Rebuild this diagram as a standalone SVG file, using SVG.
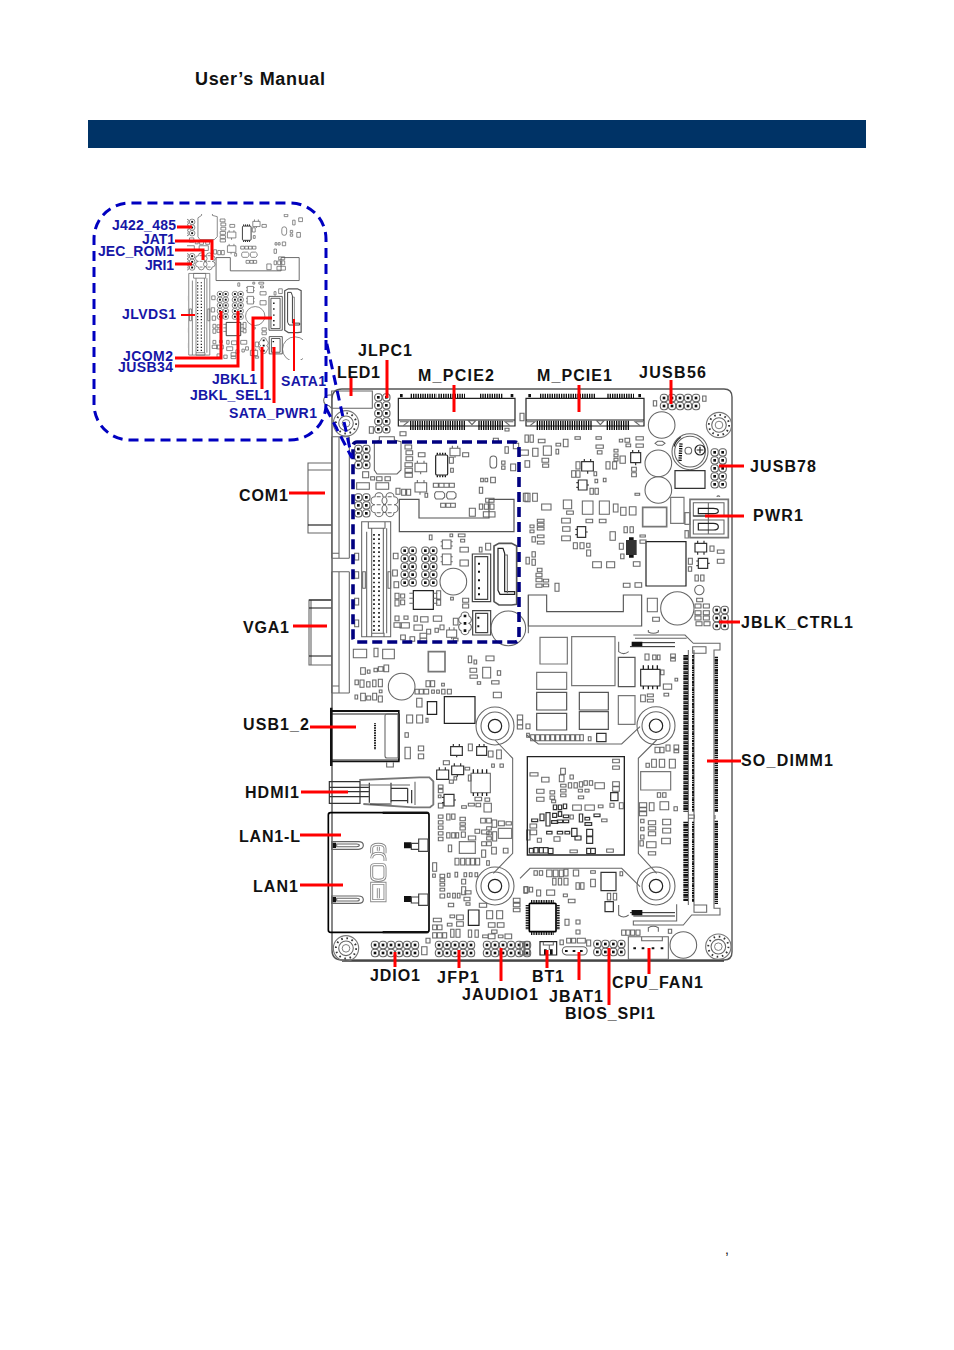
<svg xmlns="http://www.w3.org/2000/svg" width="954" height="1350" viewBox="0 0 954 1350">
<style>
text{font-family:"Liberation Sans",Arial,sans-serif;font-weight:700}
.k{font-size:16px;fill:#111}
.b{font-size:14px;fill:#1616a6}
.s{fill:none;stroke:#666;stroke-width:3.2}
.d{fill:none;stroke:#222;stroke-width:3.6}
.t{fill:none;stroke:#777;stroke-width:5}
.x{fill:none;stroke:#000;stroke-width:5}
.f{fill:#111}
.r{fill:none;stroke:#f00;stroke-width:3}
.r2{fill:none;stroke:#f00;stroke-width:2}
.tk{fill:none;stroke:#111;stroke-dasharray:4 3}
</style>
<defs>
<g id="c"><rect x="1" y="1" width="22" height="22" rx="9" class="s"/><rect x="8" y="8" width="8" height="8" class="f"/></g>
<g id="h2"><use href="#c"/><use href="#c" x="24"/></g>
<g id="h2x3"><use href="#h2"/><use href="#h2" y="24"/><use href="#h2" y="48"/></g>
<g id="h2x5"><use href="#h2x3"/><use href="#h2" y="72"/><use href="#h2" y="96"/></g>
<g id="v2"><use href="#c"/><use href="#c" y="24"/></g>
<g id="v3"><use href="#v2"/><use href="#v2" x="24"/><use href="#v2" x="48"/></g>
<g id="h4x2"><use href="#v3"/><use href="#v2" x="72"/></g>
<g id="h5x2"><use href="#h4x2"/><use href="#v2" x="96"/></g>
<g id="h6x2"><use href="#h5x2"/><use href="#v2" x="120"/></g>
<g id="mh" fill="none"><circle r="20" stroke="#777" stroke-width="1.8"/><circle r="16" stroke="#333" stroke-width="3" stroke-dasharray="2.5 5.9"/><circle r="11.5" stroke="#666" stroke-width="1.7"/><circle r="6" stroke="#777" stroke-width="1.5"/></g>
<clipPath id="ic"><rect x="187" y="214" width="116" height="146"/></clipPath>
<g id="region">
<g class="z2">
<use href="#h2x3" x="103" y="195"/><use href="#h2x3" x="103" y="340"/>
<path class="s" d="M165 350a12 12 0 0 1 24 0a12 12 0 0 1 0 24a12 12 0 0 1 0 24a12 12 0 0 1-24 0a12 12 0 0 1 0-24a12 12 0 0 1 0-24zM198 350a12 12 0 0 1 24 0a12 12 0 0 1 0 24a12 12 0 0 1 0 24a12 12 0 0 1-24 0a12 12 0 0 1 0-24a12 12 0 0 1 0-24z"/>
<path class="s" d="M170 350h12M170 374h12M170 398h12M203 350h12M203 374h12M203 398h12"/>
<path class="s" d="M163 190l15-10v-10h45v10l20 5v85l-12 12h-60l-8-12z"/>
<path class="s" d="M255 195h20v12h-20zM258 212h20v12h-20zM258 230h20v12h-20zM255 248h22v12h-22zM255 265h22v12h-22zM255 280h22v12h-22zM295 218h20v12h-20zM128 275h18v18h-18zM170 290h16v12h-16zM195 290h16v12h-16zM152 290h12v10h-12zM110 308h38v20h-38zM168 308h38v20h-38zM228 325h12v18h-12zM245 328h12v18h-12zM260 328h12v18h-12zM428 218h18v12h-18zM388 232h12v18h-12zM392 265h8v12h-8zM340 310h15v12h-15zM357 310h15v12h-15zM372 310h15v12h-15zM388 310h15v12h-15zM315 340h8v12h-8zM362 370h14v12h-14zM378 370h14v12h-14zM392 370h14v12h-14zM545 243h10v10h-10zM545 258h10v10h-10zM572 252h15v20h-15zM478 322h10v18h-10zM482 295h8v10h-8zM495 295h8v10h-8zM512 292h14v16h-14zM448 385h18v24h-18zM478 372h10v16h-10zM493 372h12v16h-12zM510 372h12v16h-12zM497 355h25v12h-25zM490 395h35v16h-35zM328 465h8v14h-8zM390 462h8v8h-8zM415 462h20v8h-20zM422 478h12v8h-12zM420 502h25v14h-25zM497 490h15v20h-15zM478 502h8v14h-8zM420 540h25v18h-25zM220 520h14v16h-14zM218 570h14v18h-14zM222 605h14v18h-14zM225 640h12v16h-12zM225 660h12v18h-12zM242 642h12v12h-12zM242 660h12v14h-12zM225 708h12v14h-12zM222 728h22v14h-22zM252 708h12v10h-12zM282 708h10v16h-10zM302 710h22v16h-22zM340 708h25v16h-25zM282 735h25v16h-25zM240 728h28v16h-28zM350 632h12v25h-12zM350 660h12v16h-12zM392 652h8v8h-8zM428 655h18v12h-18zM428 672h18v12h-18zM320 748h12v14h-12zM345 745h10v12h-10zM360 735h12v14h-12zM400 715h14v20h-14zM242 765h14v14h-14zM270 770h14v14h-14zM300 760h20v14h-20zM300 775h20v10h-20zM400 775h14v8h-14zM520 175h15v10h-15zM555 200h10v20h-10zM580 190h16v16h-16zM104 520h12v20h-12zM104 575h12v20h-12zM104 655h12v20h-12zM104 720h12v20h-12zM128 575h8v50h-8zM204 575h8v50h-8z"/>
<path class="s" d="M285 250h35v25h-35zM292 250v-8M312 250v-8M302 275v8M285 308h35v28h-35zM292 308v-8M312 308v-8M300 336v8M390 205h30v22h-30zM397 205v-8M413 205v-8M405 227v6M380 750h30v22h-30zM388 750v-8M402 750v-8M395 772v6"/>
<rect x="347" y="225" width="36" height="60" rx="4" class="d"/><path d="M352 218v6M360 218v6M368 218v6M376 218v6M352 286v6M360 286v6M368 286v6M376 286v6" stroke="#111" stroke-width="4" fill="none"/>
<path class="s" d="M348 335h20l6 6v10l-6 6h-20l-4-6v-10zM384 335h18l6 6v10l-6 6h-18l-4-6v-10zM510 238q0-10 10-10t10 10v16q0 10-10 10t-10-10z"/>
<path class="d" d="M238 358h59v56h210v-56h75v97h-344z" style="stroke:#555"/>
<path class="s" d="M125 425h87v345h-87zM140 455v315M155 445v315M190 445v315M200 445v315M145 425h50v20h-50zM155 760h37v10h-37z"/>
<path fill="none" stroke="#111" stroke-width="5" stroke-dasharray="5 8" d="M162 462v295M177 462v295"/>
<use href="#h2x5" x="242" y="500"/><use href="#h2x5" x="304" y="500"/>
<circle cx="400" cy="605" r="40" class="s"/>
<path class="d" d="M280 632h60v56h-60z"/><path class="s" d="M268 640h12M268 655h12M268 670h12M340 640h12M340 655h12M340 670h12"/>
<path class="s" d="M367 480h26v26h-26zM367 522h26v32h-26zM362 485h5M362 498h5M393 485h5M393 498h5M362 530h5M362 545h5M393 530h5M393 545h5"/>
<path class="d" style="stroke:#444" d="M457 522h55v143h-55zM465 530h38v128h-38z"/>
<path fill="#111" d="M474 548h6v6h-6zM474 572h6v6h-6zM474 598h6v6h-6zM474 622h6v6h-6zM474 640h6v6h-6z"/>
<path class="t" style="stroke:#555" d="M522 498l15-8h38l15 8v175l-15 2h-38l-15-10z"/><path class="d" d="M534 505h15l5 15v115h30v8h-44l-6-12z"/><path class="s" d="M554 525h8v115"/>
<path class="d" style="stroke:#444" d="M458 692h54v73h-54zM467 700h36v58h-36z"/><path fill="#111" d="M472 710h6v6h-6zM472 736h6v6h-6z"/>
<path class="s" d="M423 708a12 12 0 0 1 24 0a12 12 0 0 1 0 22a12 12 0 0 1 0 22a12 12 0 0 1-24 0a12 12 0 0 1 0-22a12 12 0 0 1 0-22z"/><path d="M431 704h8v8h-8zM431 726h8v8h-8zM431 748h8v8h-8z" class="f"/>
<circle cx="565" cy="745" r="52" class="s"/>
</g>
</g>
</defs>
<rect width="954" height="1350" fill="#fff"/>
<text x="195" y="85" font-size="18" fill="#111" textLength="130">User’s Manual</text>
<rect x="88" y="120" width="778" height="28" fill="#003366"/>
<text x="725" y="1254" font-size="14" fill="#111" style="font-weight:400">,</text>
<g id="board">
<path fill="none" stroke="#555" stroke-width="1.4" d="M342 389H724q8 0 8 8V952q0 8-8 8H342q-10 0-10-10V399q0-10 10-10z"/>
<path fill="none" stroke="#333" stroke-width="1.6" d="M342 961H724"/>
<g id="com1-body" fill="none" stroke="#666" stroke-width="1.1">
<path d="M332 463H308V533H332M308 470H332"/><path stroke="#111" d="M308 525H332"/>
<path d="M332 600H309V665H332M311 600V665"/><path stroke="#111" d="M309 600H332M309 608H332M309 656H332"/>
</g>
<g transform="translate(320 380) scale(.33333)">
<use href="#region"/>
<path class="s" d="M35 170v365M57 170v365M88 170v365M35 170h53M35 535h53M35 520h22M35 575h53M35 575v364M57 575v364M88 575v364M35 939h53M35 918h22"/>
<path class="s" d="M35 33h122v52h-122zM35 45h-8a15 15 0 0 0 0 32l8 8"/>
<use href="#h2x5" x="163" y="40"/>
<path class="s" d="M148 140h12v20h-12zM240 155h18v12h-18zM555 145h12v8h-12zM600 100h12v22h-12zM615 340h15v25h-15zM625 645v115"/>
<use href="#mh" transform="translate(78 130) scale(1.9)"/>
<path class="d" d="M235 55h350v83h-350zM235 120h350"/>
<path class="tk" stroke-width="13" d="M272 48h78M355 48h80M480 48h70"/><path class="tk" stroke-width="28" d="M270 136h165M475 136h75"/>
<path d="M240 42h8v10h-8zM572 42h8v10h-8z" class="f"/><path class="s" d="M240 125l25 0-15 12M580 125l-25 0 15 12M445 122h22l-11 12z"/>
</g>
<g transform="translate(520 380) scale(.33333)">
<path class="d" d="M18 55h354v83h-354zM18 120h354"/>
<path class="tk" stroke-width="13" d="M60 48h165M262 48h80"/><path class="tk" stroke-width="28" d="M50 136h165M260 136h70"/>
<path d="M25 42h8v10h-8zM355 42h8v10h-8z" class="f"/><path class="s" d="M20 125l25 0-15 12M370 125l-25 0 15 12M230 122h22l-11 12z"/>
<use href="#h5x2" x="420" y="42"/>
<use href="#mh" transform="translate(597 135) scale(1.9)"/>
<circle cx="425" cy="135" r="40" class="s"/><circle cx="415" cy="250" r="40" class="s"/><circle cx="415" cy="330" r="40" class="s"/>
<circle cx="510" cy="215" r="54" class="s"/><circle cx="510" cy="215" r="46" class="s" /><circle cx="540" cy="210" r="15" class="d"/><circle cx="505" cy="212" r="10" class="s"/><path class="d" d="M530 210h20M540 200v20M462 200a50 50 0 0 1 20-28"/><path class="tk" stroke-width="10" d="M483 190l-3 55"/>
<use href="#h2x5" x="572" y="205"/>
<path class="d" style="stroke:#333" d="M465 272h90v53h-90z"/>
<path class="t" d="M510 358h115v115h-115z"/>
<path class="s" d="M520 368h92v40h-92zM520 420h92v42h-92zM565 368v94M590 350q5-5 10 0"/>
<path class="d" d="M535 385h45q15 0 15 8t-15 8h-45zM535 430h45q15 0 15 10t-15 10h-45zM520 408h90"/>
<path class="t" d="M368 382h72v58h-72z"/><path class="t" style="stroke-width:3.5" d="M452 352h40v78h-40zM495 398h15v35h-15zM495 452h10v22h-10z"/>
<path class="d" d="M378 485h120v133h-120z"/>
<circle cx="472" cy="685" r="50" class="s"/><path class="s" d="M382 655h30v40h-30z"/>
<use href="#h2x3" x="578" y="678"/>
<circle cx="538" cy="630" r="14" class="s"/>
<path style="stroke:#555;fill:none;stroke-width:3.4" d="M25 645h55v50h230v-50h55v93h-340z"/>
<rect x="318" y="480" width="32" height="45" fill="#333"/><path d="M327 472h14v8h-14zM327 525h14v8h-14z" class="f"/>
<path class="s" d="M0 210h25v16h-25zM38 205h16v24h-16zM70 198h24v28h-24zM108 208h8v14h-8zM66 235h20v12h-20zM68 252h18v10h-18zM15 242h14v20h-14zM55 178h20v10h-20zM15 165h10v22h-10zM30 165h10v22h-10zM108 190h14v8h-14zM130 178h14v22h-14zM165 170h16v8h-16zM228 170h16v8h-16zM228 195h22v10h-22zM232 212h14v10h-14zM282 208h12v8h-12zM282 222h12v8h-12zM282 235h12v8h-12zM298 178h10v8h-10zM315 175h14v12h-14zM318 192h14v8h-14zM348 170h22v10h-22zM348 192h22v10h-22zM300 228h16v22h-16zM335 262h14v12h-14zM335 278h14v12h-14zM168 245h12v22h-12zM155 272h12v20h-12zM168 272h12v20h-12zM210 325h10v18h-10zM225 325h10v18h-10zM225 298h8v10h-8zM250 295h8v10h-8zM222 275h8v12h-8zM258 245h12v22h-12zM278 245h12v22h-12zM10 340h14v24h-14zM38 340h14v24h-14zM65 372h28v18h-28zM130 360h25v26h-25zM140 393h20v10h-20zM187 363h32v40h-32zM238 363h30v40h-30zM280 372h14v24h-14zM302 382h16v24h-16zM328 380h20v25h-20zM198 418h20v10h-20zM238 418h20v10h-20zM125 415h26v14h-26zM128 440h22v14h-22zM125 468h26v14h-26zM30 435h12v8h-12zM30 450h12v8h-12zM52 418h20v8h-20zM52 430h20v8h-20zM52 442h20v8h-20zM52 465h20v8h-20zM52 484h20v8h-20zM36 470h10v16h-10zM160 488h12v18h-12zM180 488h12v18h-12zM200 490h10v12h-10zM200 510h12v18h-12zM270 455h16v26h-16zM312 440h10v18h-10zM330 440h10v18h-10zM298 490h12v18h-12zM302 522h10v14h-10zM360 480h18v10h-18zM360 465h16v6h-16zM340 545h20v14h-20zM218 545h26v18h-26zM260 545h24v18h-24zM36 515h10v16h-10zM18 532h10v20h-10zM36 538h10v18h-10zM52 565h14v10h-14zM48 580h18v10h-18zM48 595h18v10h-18zM48 612h18v10h-18zM70 598h16v8h-16zM70 612h16v8h-16zM105 610h12v24h-12zM310 610h20v12h-20zM345 608h20v14h-20zM570 498h12v16h-12zM592 510h20v10h-20zM592 538h20v12h-20zM505 535h12v18h-12zM505 560h10v14h-10zM525 585h10v18h-10zM542 585h10v18h-10zM530 655h18v10h-18zM525 672h18v12h-18zM550 672h18v12h-18zM525 692h18v12h-18zM550 692h18v12h-18zM525 708h18v12h-18zM550 708h18v12h-18zM528 725h18v12h-18zM552 725h18v12h-18zM398 712h20v12h-20zM400 62h10v16h-10zM548 48h10v16h-10zM345 340h14v6h-14zM405 190l8-6h14l8 6-8 6h-14z"/>
<path class="d" style="stroke:#333" d="M332 218h30v30h-30zM338 218v-8M356 218v-8M347 248v8M185 245h35v28h-35zM193 245v-8M212 245v-8M203 273v8M175 300h26v30h-26zM175 308h-6M175 322h-6M201 315h6M172 440h25v32h-25zM172 448h-6M172 464h-6M197 456h6M525 490h35v26h-35zM533 490v-8M552 490v-8M533 516v8M552 516v8M535 535h28v30h-28zM535 543h-6M535 557h-6M563 550h6"/>
</g>
<g transform="translate(320 640) scale(.33333)">
<path class="s" d="M100 28h40v25h-40zM188 28h35v28h-35zM162 25h12v25h-12zM122 83h14v20h-14zM142 90h8v10h-8zM162 85h10v10h-10zM175 80h14v14h-14zM192 75h14v20h-14zM105 120h10v14h-10zM120 120h12v22h-12zM140 125h10v16h-10zM158 120h10v20h-10zM175 118h12v22h-12zM178 150h8v8h-8zM105 165h8v12h-8zM122 160h14v22h-14zM140 168h12v12h-12zM158 160h12v20h-12zM175 168h12v18h-12zM318 122h12v18h-12zM332 122h12v18h-12zM365 130h8v8h-8zM285 148h12v14h-12zM298 148h12v14h-12zM312 148h14v14h-14zM335 150h8v10h-8zM350 150h8v10h-8zM365 148h10v14h-10zM382 148h12v14h-12zM290 175h16v26h-16zM260 225h18v24h-18zM290 225h18v24h-18zM318 235h6v12h-6zM445 48h10v20h-10zM462 60h8v12h-8zM498 48h24v14h-24zM450 85h20v12h-20zM450 105h22v10h-22zM488 82h24v32h-24zM532 92h10v14h-10zM472 125h10v8h-10zM515 122h22v10h-22zM520 157h24v16h-24zM255 278h10v14h-10zM255 322h16v34h-16zM295 318h16v14h-16zM295 342h16v14h-16zM445 312h12v20h-12zM505 333h14v18h-14zM530 330h14v26h-14zM370 362h18v12h-18zM515 372h8v10h-8zM540 372h10v10h-10zM435 382h14v8h-14zM445 405h8v18h-8zM402 410h8v10h-8zM388 420h12v10h-12zM355 435h14v10h-14zM355 448h14v10h-14zM355 465h8v8h-8zM355 490h14v14h-14zM465 472h20v10h-20zM495 474h14v10h-14zM445 490h18v8h-18zM468 490h14v10h-14zM425 497h14v8h-14zM492 490h22v26h-22zM355 525h14v10h-14zM355 542h14v10h-14zM355 558h14v10h-14zM355 575h14v10h-14zM355 592h14v10h-14zM380 522h10v18h-10zM395 522h10v16h-10zM420 532h16v10h-16zM420 548h16v8h-16zM420 560h16v10h-16zM380 578h10v16h-10zM395 578h10v16h-10zM408 578h8v16h-8zM424 576h12v16h-12zM482 535h14v14h-14zM500 535h14v14h-14zM516 540h14v22h-14zM535 543h18v14h-18zM558 545h16v10h-16zM485 570h22v12h-22zM465 568h14v12h-14zM445 588h22v12h-22zM500 560h14v10h-14zM500 575h14v10h-14zM500 590h14v10h-14zM518 575h12v28h-12zM485 605h14v12h-14zM500 605h14v12h-14zM385 615h10v20h-10zM485 630h12v22h-12zM515 622h14v20h-14zM550 625h14v14h-14zM405 655h12v20h-12zM422 655h12v20h-12zM438 655h12v20h-12zM452 655h12v20h-12zM467 655h12v20h-12zM500 662h8v14h-8zM338 668h12v26h-12zM338 702h8v10h-8zM360 703h14v10h-14zM360 717h14v8h-14zM360 730h14v8h-14zM360 745h14v8h-14zM360 762h14v12h-14zM382 700h8v12h-8zM405 697h8v14h-8zM432 698h8v12h-8zM448 698h8v12h-8zM465 698h8v12h-8zM425 718h12v14h-12zM425 740h12v24h-12zM382 760h8v12h-8zM398 760h8v14h-8zM412 760h8v14h-8zM435 752h18v10h-18zM432 772h18v10h-18zM438 788h12v8h-12zM385 790h16v10h-16zM478 790h22v12h-22zM340 835h24v10h-24zM390 825h14v8h-14zM410 825h20v14h-20zM410 845h20v14h-20zM382 850h14v8h-14zM338 855h12v14h-12zM352 855h14v14h-14zM338 878h12v16h-12zM352 878h14v16h-14zM368 878h12v16h-12zM392 868h10v24h-10zM408 868h12v24h-12zM465 870h10v22h-10zM445 870h10v22h-10zM500 812h18v24h-18zM530 812h18v24h-18zM505 848h20v14h-20zM532 848h20v14h-20zM515 870h16v10h-16zM488 885h16v8h-16zM505 882h20v14h-20zM535 885h14v8h-14zM555 882h20v14h-20zM318 895h12v14h-12zM305 920h16v24h-16zM592 225h16v14h-16zM592 240h16v14h-16zM592 255h16v12h-16zM618 252h12v14h-12zM580 775h20v12h-20zM580 790h20v10h-20zM580 805h20v10h-20zM612 740h10v20h-10zM620 570h10v30h-10z"/>
<circle cx="245" cy="140" r="40" class="s"/>
<path class="t" d="M325 35h50v60h-50z"/><path class="t" d="M418 605h48v35h-48zM535 565h40v30h-40z" style="stroke-width:3.6"/>
<path class="d" d="M322 185h28v38h-28zM373 170h92v80h-92zM445 810h32v46h-32z"/>
<path class="d" style="stroke:#333" d="M392 320h35v26h-35zM400 320v-8M418 320v-8M410 346v6M470 320h30v26h-30zM478 320v-8M492 320v-8M350 390h36v28h-36zM358 390v-8M376 390v-8M395 378h36v26h-36zM403 378v-8M422 378v-8M412 404v6M372 463h30v35h-30zM372 472h-6M372 488h-6M402 480h6"/>
<path class="s" d="M453 400h58v58h-58z"/><path d="M460 388v12M473 388v12M487 388v12M500 388v12M460 458v10M473 458v10M487 458v10M500 458v10" stroke="#222" stroke-width="4" fill="none"/>
<path class="d" d="M33 222H237V360H33z"/>
<path fill="#111" d="M30 203h7v175h-7zM33 210h205v6h-205zM33 362h205v5h-205zM234 210h5v157h-5z"/>
<path class="s" d="M195 228q0-6 6-6h33v132h-33q-6 0-6-6z"/>
<path class="tk" stroke-width="6" style="stroke-dasharray:3 2" d="M165 250v80"/>
<path class="s" d="M200 367v14h20v-14"/>
<path class="t" style="stroke-width:5.5;stroke:#777" d="M118 420L298 412h30l12 12v70l-10 8h-50l-150-10"/>
<path class="d" style="stroke:#333" d="M28 425h92v65h-92zM28 442h118M28 455h118M28 470h118M148 428v60M213 428v60M213 445h50M213 482h50M263 445v45M275 450v40M150 492h65"/>
<path class="s" d="M285 425v70M120 435h150"/>
<path class="x" style="stroke-width:5" d="M25 525q0-7 7-7h288q7 0 7 7v345q0 7-7 7h-288q-7 0-7-7z"/>
<path d="M188 515h137v7h-137zM188 873h137v7h-137z" class="f"/>
<path class="d" d="M35 605h80q15 0 15 11t-15 12h-80zM35 768h80q15 0 15 11t-15 11h-80z" style="stroke:#666"/>
<path class="s" d="M50 612h60q8 0 8 4t-8 4h-60zM50 775h60q8 0 8 4t-8 4h-60z"/>
<path class="f" d="M38 608h10v16h-10zM38 771h10v16h-10zM252 607h22v18h-22zM252 768h22v18h-22z"/>
<path class="d" d="M274 610h22v18h-22zM296 597h28v37h-28zM274 771h22v18h-22zM296 762h28v34h-28z" style="stroke:#444"/>
<g fill="none"><path stroke="#888" stroke-width="9" d="M155 640v-15q0-12 20-12t20 12v15M155 655q0-15 20-15t20 15v8M175 620v12M155 680q0-6 8-6h25q7 0 7 10v25q0 12-20 12t-20-12zM155 730h40v52h-40zM175 745v30"/><path stroke="#fff" stroke-width="3.5" d="M155 640v-15q0-12 20-12t20 12v15M155 655q0-15 20-15t20 15v8M175 620v12M155 680q0-6 8-6h25q7 0 7 10v25q0 12-20 12t-20-12zM155 730h40v52h-40zM175 745v30"/></g>
<use href="#h6x2" x="153" y="903"/><use href="#h5x2" x="345" y="903"/><use href="#h6x2" x="489" y="903"/>
<use href="#mh" transform="translate(78 925) scale(1.9)"/>
<circle cx="525" cy="258" r="57" class="s"/><circle cx="525" cy="258" r="42" class="s"/><circle cx="525" cy="258" r="20" class="d"/>
<circle cx="525" cy="738" r="57" class="s"/><circle cx="525" cy="738" r="42" class="s"/><circle cx="525" cy="738" r="20" class="d"/>
<path class="s" d="M525 300l53 55v285l-58 60"/>
</g>
<g transform="translate(520 630) scale(.33333)">
<path class="t" style="stroke-width:3.6" d="M60 22h82v80h-82zM155 20h130v147h-130zM50 127h90v51h-90zM295 197h50v86h-50z"/>
<path class="d" style="stroke:#555" d="M50 187h90v53h-90zM50 250h90v50h-90zM178 187h87v53h-87zM178 245h87v53h-87zM295 82h50v88h-50z"/>
<path class="d" style="stroke-width:4" d="M22 380h291v295h-291z"/>
<circle cx="408" cy="287" r="57" class="s"/><circle cx="408" cy="287" r="42" class="s"/><circle cx="408" cy="287" r="20" class="d"/>
<circle cx="408" cy="768" r="57" class="s"/><circle cx="408" cy="768" r="42" class="s"/><circle cx="408" cy="768" r="20" class="d"/>
<path class="s" d="M20 315l35 27h250l55-52M410 330l-55 55v285l55 60M0 745l30-30h275l55 55"/>
<path class="s" d="M340 15h155l25 25h65l15 0v20h-18v775h18v20h-15l-70 0-25 30h-150v-12h130v-50M345 25l155 0"/>
<path class="d" style="stroke-width:3" d="M340 38h125M330 50h135M340 858h125M330 848h135"/>
<path class="f" d="M335 35h32v14h-32zM335 840h32v16h-32z"/>
<path class="s" d="M296 35v30q15 12 30 0M296 825v30q15 12 30 0M385 0v6q15 8 30 0v-6M385 905v-12q15-8 30 0v12"/>
<path class="s" d="M505 60v765M522 60v765M518 50h40v20h-40zM522 825h38v22h-38zM505 555h18v10h-18zM585 555v12"/>
<path class="tk" stroke-width="14" style="stroke-dasharray:5 2 8 2 3 2 6 2" d="M497 75v470M497 575v240"/>
<path class="tk" stroke-width="6" style="stroke-dasharray:5 2 3 2 8 2" d="M519 75v470M519 575v240"/>
<path class="tk" stroke-width="10" style="stroke-dasharray:4 2 9 2 6 2 3 2" d="M589 80v465M589 572v250"/>
<path class="s" d="M375 72h12v18h-12zM398 75h10v14h-10zM412 75h8v14h-8zM452 72h14v10h-14zM452 85h14v8h-14zM430 162h25v16h-25zM432 190h14v8h-14zM422 120h10v14h-10zM465 145h8v8h-8zM362 195h14v20h-14zM382 192h18v8h-18zM382 208h18v8h-18zM32 314h12v18h-12zM47 314h12v18h-12zM62 314h12v18h-12zM77 314h12v18h-12zM92 314h12v18h-12zM107 314h12v18h-12zM122 314h12v18h-12zM137 314h12v18h-12zM152 314h12v18h-12zM167 314h12v18h-12zM180 314h10v18h-10zM205 320h8v12h-8zM20 310h8v12h-8zM405 352h14v16h-14zM420 352h12v16h-12zM438 345h12v18h-12zM462 345h14v12h-14zM462 360h14v8h-14zM378 400h10v12h-10zM395 388h14v24h-14zM418 388h16v24h-16zM448 388h18v26h-18zM412 488h10v14h-10zM428 488h10v14h-10zM358 518h22v14h-22zM358 533h22v10h-22zM358 545h22v12h-22zM388 518h14v24h-14zM420 515h26v24h-26zM462 530h10v12h-10zM362 568h10v10h-10zM362 592h10v10h-10zM362 615h10v12h-10zM385 572h22v12h-22zM385 590h22v10h-22zM385 605h22v12h-22zM380 635h28v18h-28zM385 665h22v10h-22zM360 632h10v16h-10zM428 568h24v16h-24zM428 595h24v14h-24zM425 625h26v16h-26zM42 722h10v14h-10zM58 722h10v14h-10zM80 720h16v20h-16zM100 720h14v20h-14zM118 720h12v20h-12zM132 718h12v20h-12zM160 720h16v18h-16zM212 722h14v8h-14zM212 748h14v22h-14zM98 745h10v20h-10zM115 745h10v20h-10zM132 745h12v20h-12zM168 758h10v20h-10zM182 758h10v20h-10zM300 725h8v12h-8zM262 790h10v20h-10zM280 790h10v20h-10zM12 770h12v18h-12zM28 772h10v14h-10zM50 780h12v18h-12zM80 780h24v16h-24zM130 792h12v8h-12zM145 808h20v10h-20zM135 868h12v18h-12zM168 870h12v12h-12zM168 900h12v12h-12zM120 930h10v14h-10zM140 925h12v14h-12zM155 925h12v14h-12zM172 925h24v14h-24zM200 930h12v18h-12zM305 900h12v16h-12zM318 900h12v16h-12zM332 900h12v16h-12zM348 900h12v16h-12zM445 898h10v12h-10zM0 935h12v40h-12zM15 935h14v40h-14z"/>
<path class="t" style="stroke-width:3.6" d="M362 425h90v55h-90z"/>
<path class="d" d="M362 118h58v50h-58zM243 727h45v55h-45zM230 310h28v25h-28zM255 815h25v30h-25z" style="stroke:#333"/>
<path d="M370 106v12M385 106v12M398 106v12M412 106v12M370 168v10M385 168v10M398 168v10M412 168v10" stroke="#222" stroke-width="4" fill="none"/>
<rect x="28" y="820" width="80" height="85" rx="3" class="x"/>
<path class="tk" stroke-width="10" style="stroke-dasharray:3 2" d="M33 815h70M33 910h70M22 825v75M114 825v75"/>
<path class="d" d="M60 935h50v40h-50z"/><path class="s" d="M70 935v10h30v-10M88 945v15"/><path class="f" d="M72 958h8v16h-8zM90 958h8v16h-8z"/>
<path class="s" d="M127 962a12 12 0 0 1 12-12h50a12 12 0 0 1 0 25h-50a12 12 0 0 1-12-13z"/><path class="f" d="M135 960h8v6h-8zM158 960h8v6h-8zM180 960h8v6h-8z"/>
<use href="#h4x2" x="220" y="930"/>
<path class="s" d="M325 920h120v68h-120zM365 920v12h62v-12"/><path class="f" d="M340 952h8v6h-8zM365 952h8v6h-8zM395 952h8v6h-8zM422 952h8v6h-8z"/>
<circle cx="490" cy="945" r="40" class="s"/>
<use href="#mh" transform="translate(595 950) scale(1.9)"/>
<g>
<path class="s" d="M278 388h20v10h-20zM278 408h20v10h-20zM122 415h14v18h-14zM118 435h14v20h-14zM150 435h10v12h-10zM30 428h24v10h-24zM65 442h22v14h-22zM145 458h10v16h-10zM162 458h10v16h-10zM178 455h10v16h-10zM192 452h10v14h-10zM208 452h10v14h-10zM225 458h28v18h-28zM122 463h16v8h-16zM122 478h16v8h-16zM122 492h16v8h-16zM175 478h12v8h-12zM195 478h12v8h-12zM175 498h16v8h-16zM50 478h22v12h-22zM50 502h22v12h-22zM90 482h14v10h-14zM90 498h14v10h-14zM95 510h12v8h-12zM278 455h20v14h-20zM278 470h20v14h-20zM270 520h12v12h-12zM298 518h12v18h-12zM158 525h26v16h-26zM195 525h28v16h-28zM235 525h14v8h-14zM150 555h10v12h-10zM245 567h16v8h-16zM30 582h20v12h-20zM30 600h20v14h-20zM102 620h18v14h-18zM52 625h12v12h-12zM150 660h22v8h-22zM260 657h20v10h-20z"/>
<path class="d" style="stroke:#333" d="M272 488h22v24h-22zM100 525h10v14h-10zM115 525h10v14h-10zM130 522h10v14h-10zM35 567h18v8h-18zM60 552h12v20h-12zM78 548h12v40h-12zM98 550h12v12h-12zM115 545h10v14h-10zM130 555h16v8h-16zM178 552h10v24h-10zM195 562h14v8h-14zM222 552h18v8h-18zM95 572h18v8h-18zM112 570h16v8h-16zM130 570h16v8h-16zM80 604h16v8h-16zM112 604h16v8h-16zM135 604h14v8h-14zM155 595h16v24h-16zM165 618h18v12h-18zM200 598h18v20h-18zM200 620h18v20h-18zM195 578h20v8h-20zM28 655h12v14h-12zM42 653h12v16h-12zM58 653h12v16h-12zM70 653h14v16h-14zM85 655h14v16h-14zM200 655h12v16h-12zM212 655h14v16h-14z"/>
</g>
</g>
</g>
<g id="inset-view" clip-path="url(#ic)"><g transform="translate(189 219) scale(.725 .71) translate(-362 -445) translate(320 380) scale(.33333)"><use href="#region"/></g></g>
<g id="dashes" fill="none">
<rect x="353" y="442" width="166" height="200" rx="4" stroke="#000080" stroke-width="3.6" stroke-dasharray="10 5"/>
<path stroke="#0000c0" stroke-width="3" stroke-dasharray="10 6" d="M326 340V404C326 424 310 440 290 440H130C110 440 94 424 94 404V239C94 219 110 203 130 203H290C310 203 326 219 326 239V340L352 458M326 408L352 458"/>
</g>
<g id="connectors">
<path class="r" d="M289 493H325M293 626H327M310 727H356M301 792H348M300 835H341M300 885H343M351 378V396M387 360V398M454 385V412M579 385V412M671 380V404M719 466H744M705 516H744M719 622H740M707 761H741M395 952V967M459 950V968M501 948V981M547 950V968M579 952V980M609 948V1005M649 948V974"/>
<path class="r" d="M177 227H192M175 241H212V260M175 250H203V260M175 264H192M175 358H221V311M175 366H238V311M253 371V318H272M262 389V347M274 403V347"/>
<path class="r2" d="M181 315H195M294 371V319"/>
</g>
<g id="labels">
<g id="JLPC1"><text class="k" x="358" y="356" textLength="54">JLPC1</text></g>
<g id="LED1"><text class="k" x="337" y="378" textLength="43">LED1</text></g>
<g id="M_PCIE2"><text class="k" x="418" y="381" textLength="76">M_PCIE2</text></g>
<g id="M_PCIE1"><text class="k" x="537" y="381" textLength="75">M_PCIE1</text></g>
<g id="JUSB56"><text class="k" x="639" y="378" textLength="67">JUSB56</text></g>
<g id="JUSB78"><text class="k" x="750" y="472" textLength="66">JUSB78</text></g>
<g id="PWR1"><text class="k" x="753" y="521" textLength="50">PWR1</text></g>
<g id="JBLK_CTRL1"><text class="k" x="741" y="628" textLength="112">JBLK_CTRL1</text></g>
<g id="SO_DIMM1"><text class="k" x="741" y="766" textLength="92">SO_DIMM1</text></g>
<g id="COM1"><text class="k" x="239" y="501" textLength="49">COM1</text></g>
<g id="VGA1"><text class="k" x="243" y="633" textLength="46">VGA1</text></g>
<g id="USB1_2"><text class="k" x="243" y="730" textLength="66">USB1_2</text></g>
<g id="HDMI1"><text class="k" x="245" y="798" textLength="54">HDMI1</text></g>
<g id="LAN1-L"><text class="k" x="239" y="842" textLength="61">LAN1-L</text></g>
<g id="LAN1"><text class="k" x="253" y="892" textLength="45">LAN1</text></g>
<g id="JDIO1"><text class="k" x="370" y="981" textLength="50">JDIO1</text></g>
<g id="JFP1"><text class="k" x="437" y="983" textLength="42">JFP1</text></g>
<g id="JAUDIO1"><text class="k" x="462" y="1000" textLength="76">JAUDIO1</text></g>
<g id="BT1"><text class="k" x="532" y="982" textLength="32">BT1</text></g>
<g id="JBAT1"><text class="k" x="549" y="1002" textLength="54">JBAT1</text></g>
<g id="CPU_FAN1"><text class="k" x="612" y="988" textLength="91">CPU_FAN1</text></g>
<g id="BIOS_SPI1"><text class="k" x="565" y="1019" textLength="90">BIOS_SPI1</text></g>
<g id="J422_485"><text class="b" x="112" y="230" textLength="64">J422_485</text></g>
<g id="JAT1"><text class="b" x="142" y="244" textLength="33">JAT1</text></g>
<g id="JEC_ROM1"><text class="b" x="98" y="256" textLength="76">JEC_ROM1</text></g>
<g id="JRI1"><text class="b" x="145" y="270" textLength="29">JRI1</text></g>
<g id="JLVDS1"><text class="b" x="122" y="319" textLength="54">JLVDS1</text></g>
<g id="JCOM2"><text class="b" x="123" y="361" textLength="50">JCOM2</text></g>
<g id="JUSB34"><text class="b" x="118" y="372" textLength="55">JUSB34</text></g>
<g id="JBKL1"><text class="b" x="212" y="384" textLength="45">JBKL1</text></g>
<g id="JBKL_SEL1"><text class="b" x="190" y="400" textLength="81">JBKL_SEL1</text></g>
<g id="SATA_PWR1"><text class="b" x="229" y="418" textLength="88">SATA_PWR1</text></g>
<g id="SATA1"><text class="b" x="281" y="386" textLength="45">SATA1</text></g>
</g>
</svg>
